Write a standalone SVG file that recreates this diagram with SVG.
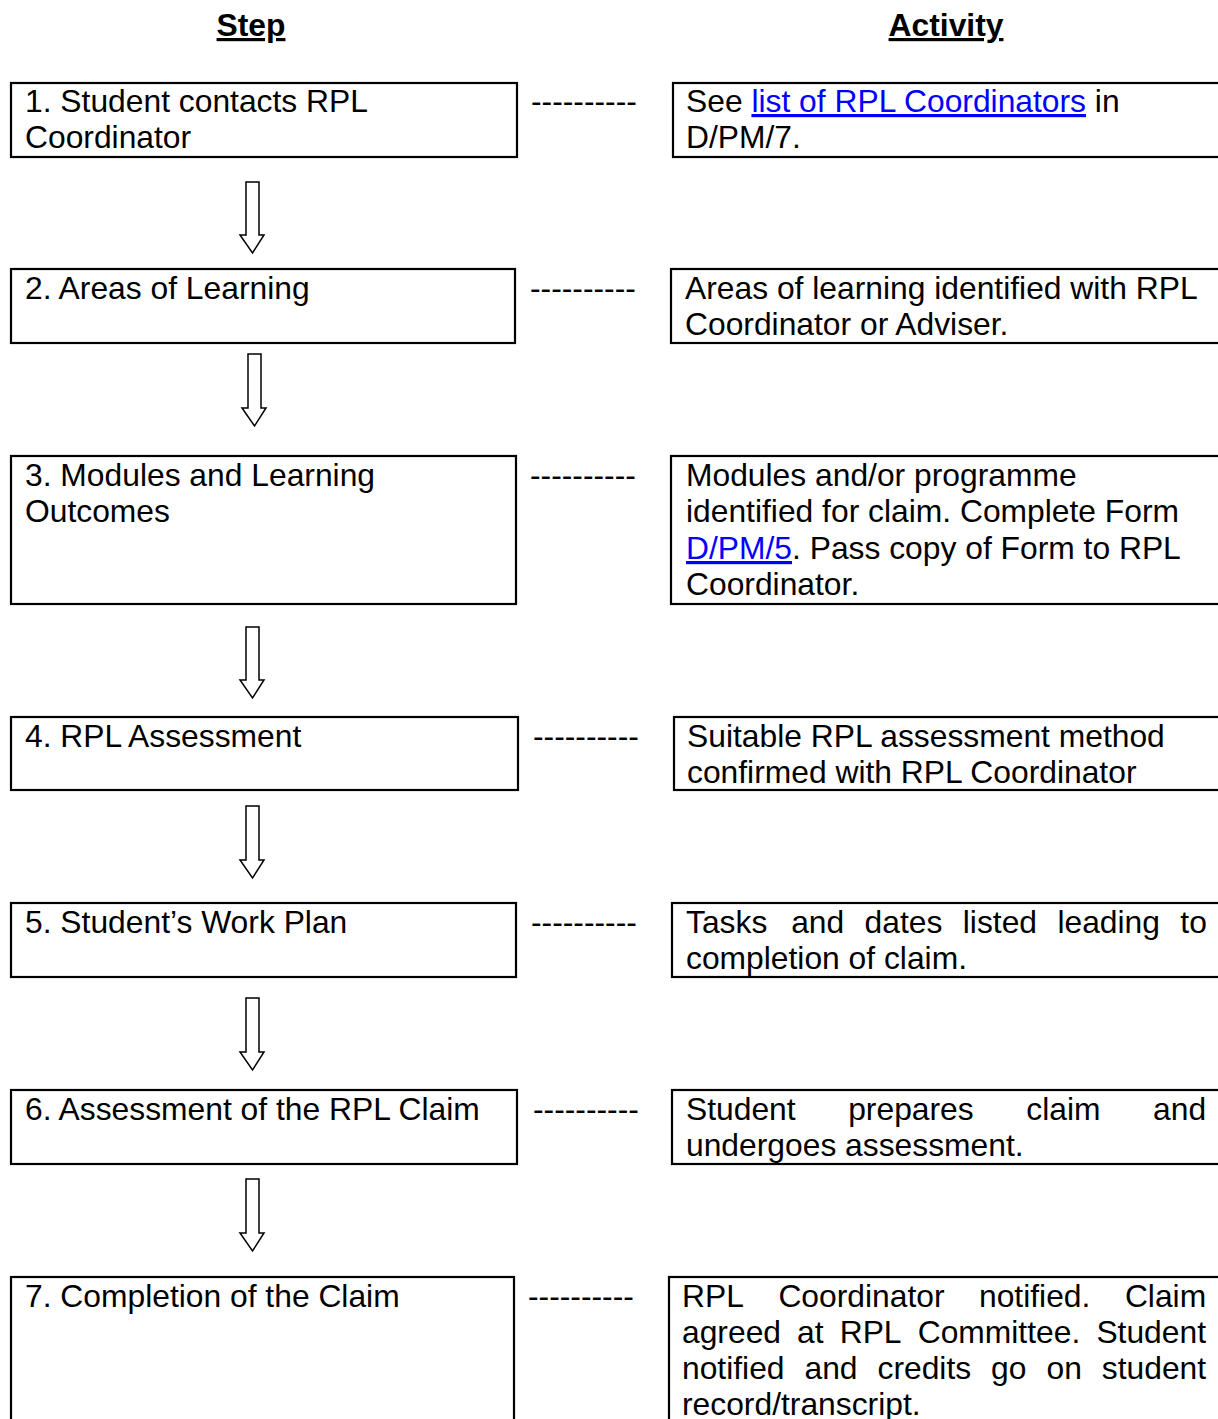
<svg xmlns="http://www.w3.org/2000/svg" width="1218" height="1419" viewBox="0 0 1218 1419">
<style>
text{font-family:"Liberation Sans",Arial,sans-serif;font-size:31.8px;fill:#000}
.hd{font-weight:bold;text-decoration:underline;text-anchor:middle}
.box{fill:#fff;stroke:#000;stroke-width:2.2}
.arr{fill:#fff;stroke:#000;stroke-width:1.5;stroke-linejoin:miter}
.lnk{fill:#0000ff;text-decoration:underline}
</style>
<rect width="1218" height="1419" fill="#fff"/>
<text class="hd" x="251" y="36">Step</text>
<text class="hd" x="946" y="36">Activity</text>

<g id="connectors">
<path class="arr" d="M246,182 H259 V235 H264 L252.5,253 L240,235 H246 Z"/>
<path class="arr" d="M248,354 H261 V408 H266 L254.5,426 L242,408 H248 Z"/>
<path class="arr" d="M246,627 H259 V680 H264 L252.5,698 L240,680 H246 Z"/>
<path class="arr" d="M246,806 H259 V860 H264 L252.5,878 L240,860 H246 Z"/>
<path class="arr" d="M246,998 H259 V1052 H264 L252.5,1070 L240,1052 H246 Z"/>
<path class="arr" d="M246,1179 H259 V1233 H264 L252.5,1251 L240,1233 H246 Z"/>
<text x="531" y="112">----------</text>
<text x="530" y="299">----------</text>
<text x="530" y="486">----------</text>
<text x="533" y="747">----------</text>
<text x="531" y="933">----------</text>
<text x="533" y="1120">----------</text>
<text x="528" y="1307">----------</text>
</g>

<g id="step1">
<rect class="box" x="11" y="83" width="506" height="74"/>
<text x="25" y="112">1. Student contacts RPL</text>
<text x="25" y="148">Coordinator</text>
</g>
<g id="activity1">
<rect class="box" x="673" y="83" width="560" height="74"/>
<text x="686" y="112">See <tspan class="lnk">list of RPL Coordinators</tspan> in</text>
<text x="686" y="148">D/PM/7.</text>
</g>

<g id="step2">
<rect class="box" x="11" y="269" width="504" height="74"/>
<text x="25" y="299">2. Areas of Learning</text>
</g>
<g id="activity2">
<rect class="box" x="671" y="269" width="560" height="74"/>
<text x="685" y="299">Areas of learning identified with RPL</text>
<text x="685" y="335">Coordinator or Adviser.</text>
</g>

<g id="step3">
<rect class="box" x="11" y="456" width="505" height="148"/>
<text x="25" y="486">3. Modules and Learning</text>
<text x="25" y="522">Outcomes</text>
</g>
<g id="activity3">
<rect class="box" x="671" y="456" width="560" height="148"/>
<text x="686" y="486">Modules and/or programme</text>
<text x="686" y="522">identified for claim. Complete Form</text>
<text x="686" y="559"><tspan class="lnk">D/PM/5</tspan>. Pass copy of Form to RPL</text>
<text x="686" y="595">Coordinator.</text>
</g>

<g id="step4">
<rect class="box" x="11" y="717" width="507" height="73"/>
<text x="25" y="747">4. RPL Assessment</text>
</g>
<g id="activity4">
<rect class="box" x="674" y="717" width="560" height="73"/>
<text x="687" y="747">Suitable RPL assessment method</text>
<text x="687" y="783">confirmed with RPL Coordinator</text>
</g>

<g id="step5">
<rect class="box" x="11" y="903" width="505" height="74"/>
<text x="25" y="933">5. Student’s Work Plan</text>
</g>
<g id="activity5">
<rect class="box" x="672" y="903" width="560" height="74"/>
<text y="933"><tspan x="686">Tasks</tspan><tspan x="791.2">and</tspan><tspan x="864.6">dates</tspan><tspan x="962.8">listed</tspan><tspan x="1057.4">leading</tspan><tspan x="1180.3">to</tspan></text>
<text x="686" y="969">completion of claim.</text>
</g>

<g id="step6">
<rect class="box" x="11" y="1090" width="506" height="74"/>
<text x="25" y="1120">6. Assessment of the RPL Claim</text>
</g>
<g id="activity6">
<rect class="box" x="672" y="1090" width="560" height="74"/>
<text y="1120"><tspan x="686">Student</tspan><tspan x="848.2">prepares</tspan><tspan x="1026.3">claim</tspan><tspan x="1153.1">and</tspan></text>
<text x="686" y="1156">undergoes assessment.</text>
</g>

<g id="step7">
<rect class="box" x="11" y="1277" width="503" height="160"/>
<text x="25" y="1307">7. Completion of the Claim</text>
</g>
<g id="activity7">
<rect class="box" x="669" y="1277" width="560" height="160"/>
<text y="1307"><tspan x="682">RPL</tspan><tspan x="778.4">Coordinator</tspan><tspan x="979">notified.</tspan><tspan x="1124.9">Claim</tspan></text>
<text y="1343"><tspan x="682">agreed</tspan><tspan x="797.1">at</tspan><tspan x="839.7">RPL</tspan><tspan x="917.7">Committee.</tspan><tspan x="1096.4">Student</tspan></text>
<text y="1379"><tspan x="682">notified</tspan><tspan x="804.5">and</tspan><tspan x="877.5">credits</tspan><tspan x="991.1">go</tspan><tspan x="1046.5">on</tspan><tspan x="1101.8">student</tspan></text>
<text x="682" y="1415">record/transcript.</text>
</g>
</svg>
